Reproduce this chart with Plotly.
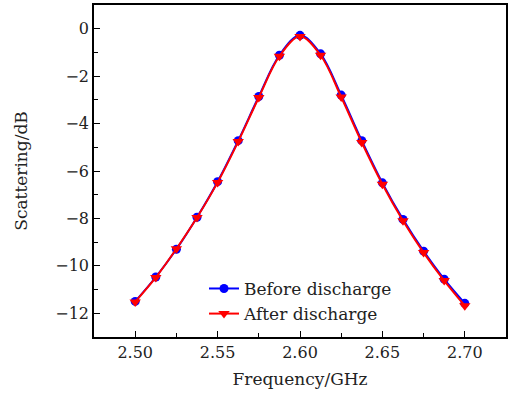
import plotly.graph_objects as go

freq = [2.5, 2.5125, 2.525, 2.5375, 2.55, 2.5625, 2.575, 2.5875, 2.6,
        2.6125, 2.625, 2.6375, 2.65, 2.6625, 2.675, 2.6875, 2.7]
before = [-11.5, -10.47, -9.3, -7.95, -6.45, -4.72, -2.86, -1.12, -0.28,
          -1.06, -2.8, -4.72, -6.5, -8.04, -9.38, -10.56, -11.58]
after = [-11.52, -10.49, -9.28, -7.96, -6.48, -4.76, -2.9, -1.16, -0.33,
         -1.12, -2.88, -4.8, -6.56, -8.1, -9.44, -10.62, -11.68]

font = "DejaVu Serif"
txt = "#222"

fig = go.Figure()
fig.add_trace(go.Scatter(
    x=freq, y=before, mode="lines+markers", name="Before discharge",
    line=dict(color="#0000ff", width=2, shape="spline"),
    marker=dict(symbol="circle", size=9, color="#0000ff")))
fig.add_trace(go.Scatter(
    x=freq, y=after, mode="lines+markers", name="After discharge",
    line=dict(color="#ff0000", width=2, shape="spline"),
    marker=dict(symbol="triangle-down", size=10, color="#ff0000")))

axis_common = dict(showline=True, linecolor="black", linewidth=1.5, mirror=True,
                   ticks="inside", ticklen=6, tickcolor="black", showgrid=False,
                   zeroline=False, tickfont=dict(family=font, size=16, color=txt))

fig.update_layout(
    width=510, height=394,
    margin=dict(l=94, r=2, t=5, b=57),
    plot_bgcolor="white", paper_bgcolor="white",
    font=dict(family=font, size=16, color=txt),
    xaxis=dict(range=[2.475, 2.725], tickvals=[2.5, 2.55, 2.6, 2.65, 2.7],
               ticktext=["2.50", "2.55", "2.60", "2.65", "2.70"],
               minor=dict(dtick=0.025, tick0=2.5, ticks="inside", ticklen=4, tickcolor="black"),
               title=dict(text="Frequency/GHz", font=dict(family=font, size=17, color=txt), standoff=12),
               **axis_common),
    yaxis=dict(range=[-13, 1], tickvals=[0, -2, -4, -6, -8, -10, -12],
               minor=dict(dtick=1, tick0=0, ticks="inside", ticklen=4, tickcolor="black"),
               title=dict(text="Scattering/dB", font=dict(family=font, size=17, color=txt), standoff=23),
               **axis_common),
    legend=dict(x=0.267, y=0.199, xanchor="left", yanchor="top", bgcolor="rgba(0,0,0,0)",
                font=dict(family=font, size=17, color=txt), itemwidth=30, tracegroupgap=0),
)

fig.write_html("out.html")
